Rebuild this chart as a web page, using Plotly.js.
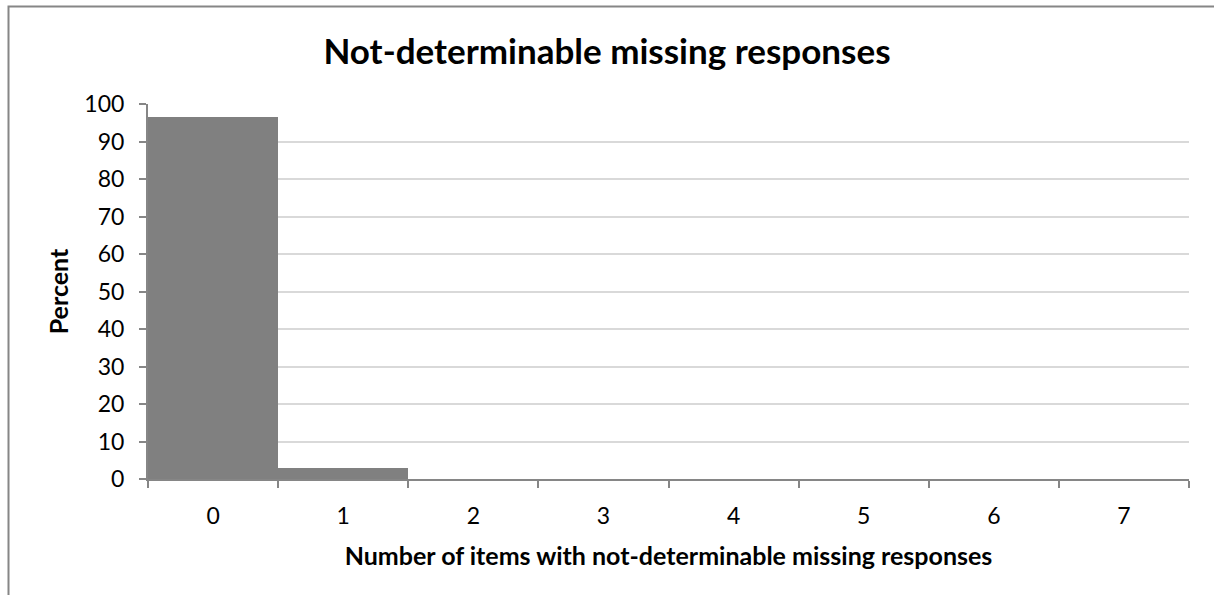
<!DOCTYPE html>
<html>
<head>
<meta charset="utf-8">
<script src="https://cdn.plot.ly/plotly-3.0.1.min.js"></script>
<style>
  html, body { margin: 0; padding: 0; background: #ffffff; }
  #chart { width: 1214px; height: 595px; }
</style>
</head>
<body>
<div id="chart"></div>
<script>
// Number of items with not-determinable missing responses, and share of respondents (%)
const itemCounts = ['0', '1', '2', '3', '4', '5', '6', '7'];
const percentValues = [96.6, 3.0, 0, 0, 0, 0, 0, 0];
const yTickValues = [0, 10, 20, 30, 40, 50, 60, 70, 80, 90, 100];

const W = 1214, H = 595;
const M = { l: 148, r: 25, t: 104, b: 116 };
const plotW = W - M.l - M.r, plotH = H - M.t - M.b;
// convert pixel positions to paper coordinates for the outer frame
const px = x => (x - M.l) / plotW;
const py = y => (H - M.b - y) / plotH;

const baseFont = 'Lato, "Open Sans", sans-serif';
const axisGrey = '#868686';

const trace = {
  type: 'bar',
  x: itemCounts,
  y: percentValues,
  marker: { color: '#808080', line: { width: 0 } },
  hoverinfo: 'x+y'
};

const layout = {
  width: W,
  height: H,
  margin: M,
  paper_bgcolor: '#ffffff',
  plot_bgcolor: '#ffffff',
  showlegend: false,
  bargap: 0,
  font: { family: baseFont, color: '#000000', size: 23 },
  title: {
    text: '<b>Not-determinable missing responses</b>',
    font: { family: baseFont, size: 35, color: '#000000' },
    x: 0.5, xanchor: 'center',
    y: 1 - 52 / H, yanchor: 'middle'
  },
  xaxis: {
    type: 'category',
    tickson: 'boundaries',
    ticks: 'outside',
    ticklen: 7,
    tickwidth: 2,
    tickcolor: axisGrey,
    ticklabelstandoff: 15,
    showline: true,
    linecolor: axisGrey,
    linewidth: 2,
    showgrid: false,
    tickfont: { family: baseFont, size: 23, color: '#000000' },
    title: {
      text: '<b>Number of items with not-determinable missing responses</b>',
      font: { family: baseFont, size: 25, color: '#000000' },
      standoff: 20
    },
    automargin: false
  },
  yaxis: {
    range: [0, 100],
    tickvals: yTickValues,
    ticks: 'outside',
    ticklen: 7,
    tickwidth: 2,
    tickcolor: axisGrey,
    ticklabelstandoff: 10,
    showline: true,
    linecolor: axisGrey,
    linewidth: 2,
    showgrid: true,
    gridcolor: '#d9d9d9',
    gridwidth: 2,
    zeroline: false,
    tickfont: { family: baseFont, size: 23, color: '#000000' },
    title: {
      text: '<b>Percent</b>',
      font: { family: baseFont, size: 25, color: '#000000' },
      standoff: 9
    },
    automargin: false
  },
  shapes: [
    {
      type: 'path',
      xref: 'paper', yref: 'paper',
      path: 'M ' + px(8.5) + ' ' + py(600) + ' L ' + px(8.5) + ' ' + py(6.5) + ' L ' + px(1220) + ' ' + py(6.5),
      line: { color: axisGrey, width: 2 }
    }
  ]
};

Plotly.newPlot('chart', [trace], layout, { displayModeBar: false, staticPlot: true });
</script>
</body>
</html>
